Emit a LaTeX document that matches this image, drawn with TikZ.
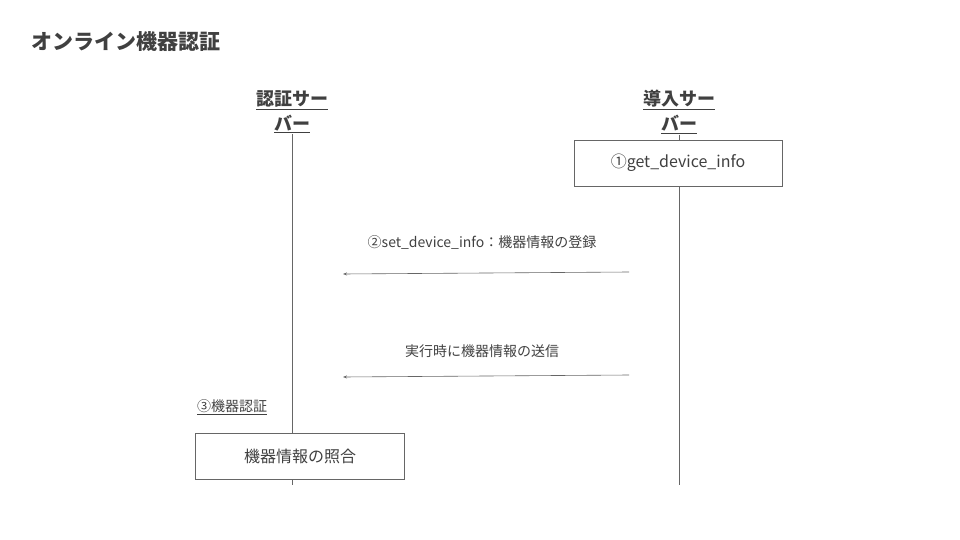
\documentclass[tikz,border=0pt]{standalone}
\usepackage{fontspec}
\setmainfont{Noto Sans CJK JP}
\usetikzlibrary{positioning, arrows.meta}

\begin{document}
\begin{tikzpicture}[x=1pt,y=-1pt,
    every node/.style={text=black!75, inner sep=1pt},
    header/.style={font=\fontsize{18}{25}\selectfont\bfseries, align=center},
    msgbox/.style={draw=black!60, fill=white, minimum height=46pt, font=\fontsize{16}{18}\selectfont, inner sep=0pt},
    msg/.style={font=\fontsize{14}{16}\selectfont},
    lifeline/.style={draw=black!60, line width=0.6pt},
    call/.style={draw=black!60, line width=0.6pt, -{Stealth[length=4pt,width=3pt]}}]
\useasboundingbox (0,0) rectangle (960,540);

\node[anchor=west, font=\fontsize{21}{24}\selectfont\bfseries] (title) at (30,42) {オンライン機器認証};

% lifelines
\node[header] (auth) at (292,112) {\underline{認証サー}\\\underline{バー}};
\node[header] (intro) at (679,112) {\underline{導入サー}\\\underline{バー}};
\coordinate (authend) at (292,485);
\coordinate (introend) at (679,485);
\draw[lifeline] (auth.south) -- (authend);
\draw[lifeline] (intro.south) -- (introend);

\node[msgbox, minimum width=208pt] (getinfo) at (678,163) {①get\_device\_info};
\node[msgbox, minimum width=209pt] (check) at (300,456) {機器情報の照合};
\node[msg] (authlbl) at (232,407) {\underline{③機器認証}};

% messages
\coordinate (s1) at (629,272);
\coordinate (e1) at (343,274);
\coordinate (s2) at (629,375);
\coordinate (e2) at (343,377);
\draw[call] (s1) -- (e1);
\draw[call] (s2) -- (e2);
\node[msg] (setinfo) at (482,243) {②set\_device\_info：機器情報の登録};
\node[msg] (send) at (482,351) {実行時に機器情報の送信};
\end{tikzpicture}
\end{document}
